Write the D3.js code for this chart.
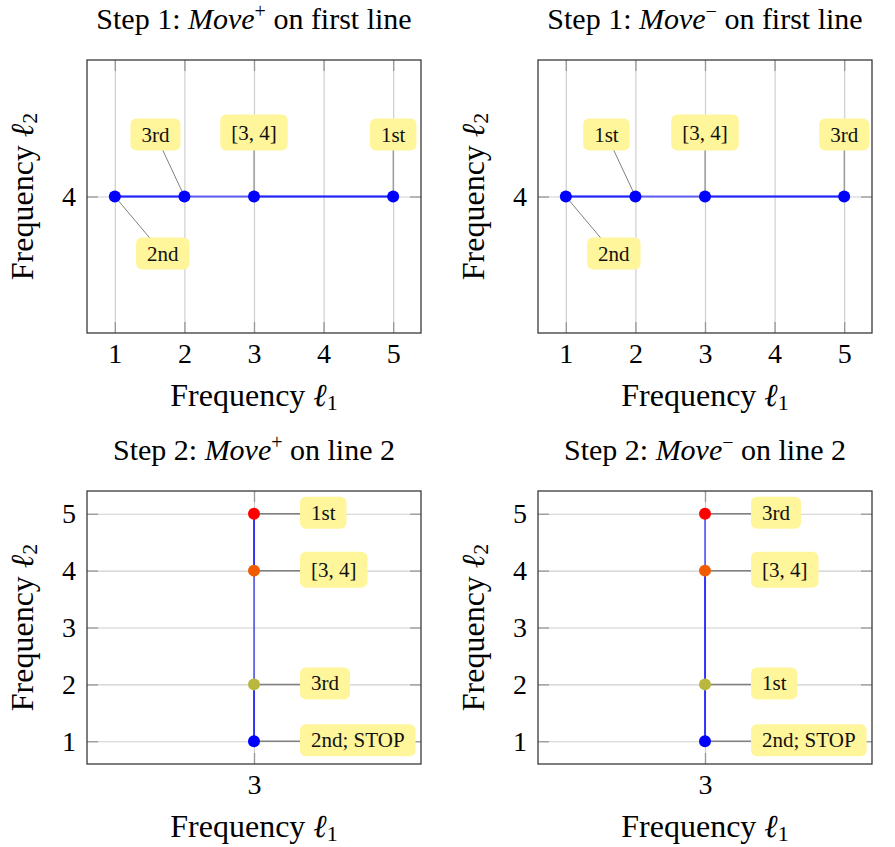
<!DOCTYPE html>
<html>
<head>
<meta charset="utf-8">
<script src="https://cdn.jsdelivr.net/npm/d3@7"></script>
<style>
  body { margin: 0; background: #fff; }
</style>
</head>
<body>
<div id="chart"></div>
<script>
// step 1: moves along the line l2 = 4
const step1Ticks = [1, 2, 3, 4, 5];
const step1YTicks = [4];
const step1Line = 4;
const step1Labels = ["[3, 4]", "1st", "2nd", "3rd"];
const step1PlusX = [3, 5, 1, 2];
const step1MinusX = [3, 2, 1, 5];
// order in which the blue path visits the points
const step1PlusPath = [3, 5, 1, 2];
const step1MinusPath = [3, 5, 1, 2];

// step 2: moves along the line l1 = 3
const step2XTicks = [3];
const step2Ticks = [1, 2, 3, 4, 5];
const step2Line = 3;
const step2Labels = ["[3, 4]", "1st", "2nd; STOP", "3rd"];
const step2PlusY = [4, 5, 1, 2];
const step2MinusY = [4, 2, 1, 5];
const step2PlusPath = [4, 5, 1, 2];
const step2MinusPath = [4, 2, 1, 5];
const step2Levels = [5, 4, 2, 1];
const step2Colors = ["#ff0000", "#f25a00", "#bab83c", "#0000ff"];

const titles = [
  ["Step 1: ", "Move", "+", " on first line"],
  ["Step 1: ", "Move", "\u2212", " on first line"],
  ["Step 2: ", "Move", "+", " on line 2"],
  ["Step 2: ", "Move", "\u2212", " on line 2"]
];

// layout
const width = 895, height = 847;
const cols = [87, 538], rows = [60, 491];
const W = 334, H = 273;
const serif = "'Liberation Serif'";
// pin placement for step 1 callouts, keyed by x position: [dx, side]
const step1Pins = {1: [48, "below"], 2: [-29, "above"], 3: [0, "above"], 4: [0, "above"], 5: [0, "above"]};

const svg = d3.select("#chart").append("svg")
    .attr("width", width)
    .attr("height", height)
    .attr("font-family", serif);

function drawPanel(cfg) {
  const g = svg.append("g").attr("transform", "translate(" + cfg.left + "," + cfg.top + ")");
  const x = d3.scaleLinear().domain(cfg.xDomain).range([0, W]);
  const y = d3.scaleLinear().domain(cfg.yDomain).range([H, 0]);

  // grid
  const gx = g.append("g").attr("transform", "translate(0," + H + ")")
      .call(d3.axisBottom(x).tickValues(cfg.xTicks).tickSize(-H).tickFormat(""));
  const gy = g.append("g")
      .call(d3.axisLeft(y).tickValues(cfg.yTicks).tickSize(-W).tickFormat(""));
  [gx, gy].forEach(a => {
    a.select(".domain").remove();
    a.selectAll("line").attr("stroke", "#cfcfcf").attr("stroke-width", 1.2);
  });

  // inner tick marks on all four sides
  const tk = 11;
  const marks = [
    g.append("g").attr("transform", "translate(0," + H + ")").call(d3.axisBottom(x).tickValues(cfg.xTicks).tickSize(-tk).tickFormat("")),
    g.append("g").call(d3.axisTop(x).tickValues(cfg.xTicks).tickSize(-tk).tickFormat("")),
    g.append("g").call(d3.axisLeft(y).tickValues(cfg.yTicks).tickSize(-tk).tickFormat("")),
    g.append("g").attr("transform", "translate(" + W + ",0)").call(d3.axisRight(y).tickValues(cfg.yTicks).tickSize(-tk).tickFormat(""))
  ];
  marks.forEach(a => {
    a.select(".domain").remove();
    a.selectAll("line").attr("stroke", "#9a9a9a").attr("stroke-width", 1.3);
  });

  // tick labels
  const lx = g.append("g").attr("transform", "translate(0," + H + ")")
      .call(d3.axisBottom(x).tickValues(cfg.xTicks).tickSize(0).tickPadding(10).tickFormat(d3.format("d")));
  const ly = g.append("g")
      .call(d3.axisLeft(y).tickValues(cfg.yTicks).tickSize(0).tickPadding(11).tickFormat(d3.format("d")));
  [lx, ly].forEach(a => {
    a.select(".domain").remove();
    a.attr("font-family", serif).attr("font-size", 28);
    a.selectAll("text").attr("fill", "#000");
  });

  const pts = cfg.values.map((v, i) => cfg.vertical
      ? {x: cfg.line, y: v, label: cfg.labels[i]}
      : {x: v, y: cfg.line, label: cfg.labels[i]});
  pts.forEach(p => { p.px = x(p.x); p.py = y(p.y); });

  // callout boxes (measured first, drawn last)
  const fs = 21;
  const boxes = g.append("g");
  pts.forEach(p => {
    const t = boxes.append("text").attr("font-size", fs).text(p.label);
    const tw = t.node().getComputedTextLength();
    t.remove();
    const bw = tw + 22, bh = p.label.includes("[") ? 36 : 32;
    let cx, cy;
    if (cfg.vertical) {
      cx = p.px + 46 + bw / 2;
      cy = p.py - 1;
    } else {
      const pin = step1Pins[p.x];
      cx = p.px + pin[0];
      cy = pin[1] === "above" ? p.py - 46 - bh / 2 : p.py + 41 + bh / 2;
    }
    p.box = {cx, cy, bw, bh};
  });

  // connectors
  g.append("g").selectAll("line").data(pts).join("line")
      .attr("x1", d => d.px).attr("y1", d => d.py)
      .attr("x2", d => cfg.vertical ? d.box.cx - d.box.bw / 2 : d.box.cx)
      .attr("y2", d => cfg.vertical ? d.py : d.box.cy)
      .attr("stroke", "#808080")
      .attr("stroke-width", cfg.vertical ? 1.5 : 1);

  // path segments, semi-transparent so retraced parts look darker
  const pos = v => cfg.vertical ? [x(cfg.line), y(v)] : [x(v), y(cfg.line)];
  g.append("g").selectAll("line").data(d3.pairs(cfg.path)).join("line")
      .attr("x1", d => pos(d[0])[0]).attr("y1", d => pos(d[0])[1])
      .attr("x2", d => pos(d[1])[0]).attr("y2", d => pos(d[1])[1])
      .attr("stroke", "#0000ff")
      .attr("stroke-opacity", 0.6)
      .attr("stroke-width", cfg.vertical ? 1.7 : 2.2);

  // points
  g.append("g").selectAll("circle").data(pts).join("circle")
      .attr("cx", d => d.px).attr("cy", d => d.py)
      .attr("r", 6)
      .attr("fill", d => cfg.color(d));

  boxes.raise();
  pts.forEach(p => {
    const b = p.box;
    boxes.append("rect")
        .attr("x", b.cx - b.bw / 2).attr("y", b.cy - b.bh / 2)
        .attr("width", b.bw).attr("height", b.bh)
        .attr("rx", 6)
        .attr("fill", "#fff59a");
    boxes.append("text")
        .attr("x", b.cx).attr("y", b.cy + 7)
        .attr("text-anchor", "middle")
        .attr("font-size", fs)
        .attr("fill", "#111")
        .text(p.label);
  });

  // frame
  g.append("rect").attr("width", W).attr("height", H)
      .attr("fill", "none").attr("stroke", "#3a3a3a").attr("stroke-width", 1.3);

  // title
  const tt = g.append("text").attr("x", W / 2).attr("y", -31)
      .attr("text-anchor", "middle").attr("font-size", 30);
  tt.append("tspan").text(cfg.title[0]);
  tt.append("tspan").attr("font-style", "italic").text(cfg.title[1]);
  tt.append("tspan").attr("dy", -11).attr("font-size", 20).text(cfg.title[2]);
  tt.append("tspan").attr("dy", 11).text(cfg.title[3]);

  // axis labels
  const xl = g.append("text").attr("x", W / 2).attr("y", H + 73)
      .attr("text-anchor", "middle").attr("font-size", 32);
  xl.append("tspan").text("Frequency ");
  xl.append("tspan").attr("font-style", "italic").text("\u2113");
  xl.append("tspan").attr("dy", 4).attr("font-size", 22).text("1");

  const yl = g.append("text")
      .attr("transform", "translate(-54," + H / 2 + ") rotate(-90)")
      .attr("text-anchor", "middle").attr("font-size", 32);
  yl.append("tspan").text("Frequency ");
  yl.append("tspan").attr("font-style", "italic").text("\u2113");
  yl.append("tspan").attr("dy", 4).attr("font-size", 22).text("2");
}

const levelColor = d3.scaleOrdinal().domain(step2Levels).range(step2Colors);

drawPanel({left: cols[0], top: rows[0], title: titles[0], xDomain: [0.6, 5.4], yDomain: [3, 5],
  xTicks: step1Ticks, yTicks: step1YTicks, line: step1Line, values: step1PlusX, labels: step1Labels,
  path: step1PlusPath, vertical: false, color: () => "#0000ff"});
drawPanel({left: cols[1], top: rows[0], title: titles[1], xDomain: [0.6, 5.4], yDomain: [3, 5],
  xTicks: step1Ticks, yTicks: step1YTicks, line: step1Line, values: step1MinusX, labels: step1Labels,
  path: step1MinusPath, vertical: false, color: () => "#0000ff"});
drawPanel({left: cols[0], top: rows[1], title: titles[2], xDomain: [2, 4], yDomain: [0.6, 5.4],
  xTicks: step2XTicks, yTicks: step2Ticks, line: step2Line, values: step2PlusY, labels: step2Labels,
  path: step2PlusPath, vertical: true, color: d => levelColor(d.y)});
drawPanel({left: cols[1], top: rows[1], title: titles[3], xDomain: [2, 4], yDomain: [0.6, 5.4],
  xTicks: step2XTicks, yTicks: step2Ticks, line: step2Line, values: step2MinusY, labels: step2Labels,
  path: step2MinusPath, vertical: true, color: d => levelColor(d.y)});
</script>
</body>
</html>
